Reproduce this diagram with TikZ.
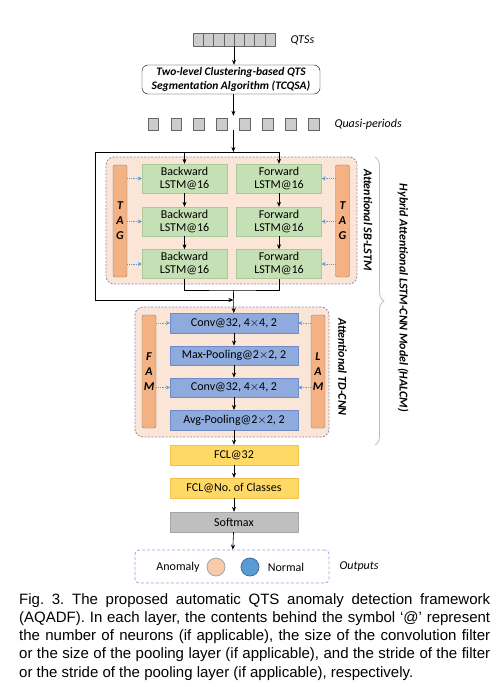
\documentclass[tikz,border=0pt]{standalone}
\usepackage{fontspec}
\setmainfont{Carlito}
\newfontfamily\capfont{Liberation Sans}
\usetikzlibrary{arrows.meta,shapes,positioning,calc}
\usetikzlibrary{decorations, decorations.pathreplacing}
\definecolor{fg}{rgb}{0,0,0}
\definecolor{peach}{HTML}{FBE5D6}
\definecolor{barorange}{HTML}{F4B183}
\definecolor{groupline}{HTML}{8E8CB8}
\definecolor{lstmgreen}{HTML}{C5E0B4}
\definecolor{lstmline}{HTML}{A9C99A}
\definecolor{cnnblue}{HTML}{8FAADC}
\definecolor{cnnline}{HTML}{6F8CC4}
\definecolor{fclgold}{HTML}{FFD966}
\definecolor{fclline}{HTML}{F2C04E}
\definecolor{softgray}{HTML}{BFBFBF}
\definecolor{attblue}{HTML}{5B9BD5}
\definecolor{bracecol}{HTML}{B4BFCC}
\definecolor{anomcol}{HTML}{F8CBAD}
\newcommand{\diagfont}{\fontsize{12}{13}\selectfont}
\tikzstyle{cell}=[draw=gray!80!black, fill=gray!40, minimum width=10.5pt,
minimum height=12pt, inner sep=0pt]
\tikzstyle{group}=[draw=groupline, fill=peach, dash pattern=on 2pt off 1.5pt,
rounded corners=8pt, thick]
\tikzstyle{bar}=[draw=gray, fill=barorange, rounded corners=2pt, minimum width=14pt,
inner sep=0pt, align=center, font=\bfseries\itshape\fontsize{12}{15}\selectfont]
\tikzstyle{lstm}=[draw=lstmline, fill=lstmgreen, minimum width=85pt, minimum height=29pt,
inner sep=0pt, align=center, font=\diagfont]
\tikzstyle{cnn}=[draw=cnnline, fill=cnnblue, minimum width=128pt, minimum height=19.5pt,
inner sep=0pt, font=\diagfont]
\tikzstyle{fcl}=[draw=fclline, fill=fclgold, minimum width=128pt, minimum height=20pt,
inner sep=0pt, font=\diagfont]
\tikzstyle{label}=[font=\itshape\diagfont]
\tikzstyle{sidelabel}=[rotate=-90, font=\bfseries\itshape\diagfont]
\tikzstyle{myarrow}=[-{Stealth[length=5pt,width=4pt]}, semithick]
\tikzstyle{attarrow}=[-{Stealth[length=4pt,width=4pt]}, attblue, densely dotted, thick]

\begin{document}
\frenchspacing
\begin{tikzpicture}[x=1pt, y=-1pt]
    \useasboundingbox (0,0) rectangle (500,687);

    % input series and segmentation
    \node[cell, minimum width=82pt, minimum height=12.5pt] (qts) at (234, 39.5) {};
    \foreach \i in {1,...,7} \draw[gray!80!black] (193+10.25*\i, 33.25) -- ++(0, 12.5);
    \node[label, anchor=west] (qtslab) at (287, 40) {QTSs};
    \node[draw, rounded corners=6pt, minimum width=178pt, minimum height=29pt, align=center,
        inner sep=0pt, font=\bfseries\itshape\fontsize{11.5}{13.5}\selectfont] (tcqsa)
        at (231, 79.5) {Two-level Clustering-based QTS\\Segmentation Algorithm (TCQSA)};
    \node[minimum width=172pt, minimum height=12pt, inner sep=0pt] (quasi) at (233.4, 124) {};
    \foreach \i in {0,...,7} \node[cell] (p\i) at (153+22.96*\i, 124) {};
    \node[label, anchor=west] (quasilab) at (331, 124) {Quasi-periods};

    \draw[myarrow] (qts.south) -- (qts.south |- tcqsa.north);
    \draw[myarrow] (tcqsa.south -| quasi) -- ($(quasi.north)+(0,-2)$);

    % attentional SB-LSTM
    \node[group, minimum width=251pt, minimum height=127pt] (lstmgroup) at (231.5, 220.5) {};
    \node[bar, minimum height=112pt] (tagL) at (120, 221) {T\\A\\G};
    \node[bar, minimum height=112pt] (tagR) at (342.5, 221) {T\\A\\G};
    \node[lstm] (bw1) at (184.5, 178.5) {Backward\\LSTM@16};
    \node[lstm] (fw1) at (279, 178.5) {Forward\\LSTM@16};
    \node[lstm] (bw2) at (184.5, 221.5) {Backward\\LSTM@16};
    \node[lstm] (fw2) at (279, 221.5) {Forward\\LSTM@16};
    \node[lstm] (bw3) at (184.5, 264) {Backward\\LSTM@16};
    \node[lstm] (fw3) at (279, 264) {Forward\\LSTM@16};
    \node[sidelabel] (lstmlab) at (368, 220) {Attentional SB-LSTM};

    \coordinate (split) at (233.4, 152);
    \coordinate (bypass) at (95, 152);
    \coordinate (merge) at (233.4, 290);
    \coordinate (join) at (233.4, 300);

    \draw[myarrow] (quasi.south) -- (split);
    \draw[semithick] (bypass) -- (fw1.north |- split);
    \draw[myarrow] (bw1.north |- split) -- (bw1);
    \draw[myarrow] (fw1.north |- split) -- (fw1);
    \draw[myarrow] (bw1) -- (bw2);
    \draw[myarrow] (bw2) -- (bw3);
    \draw[myarrow] (fw1) -- (fw2);
    \draw[myarrow] (fw2) -- (fw3);
    \draw[attarrow] (tagL.east |- bw1) -- (bw1.west);
    \draw[attarrow] (tagL.east |- bw2) -- (bw2.west);
    \draw[attarrow] (tagL.east |- bw3) -- (bw3.west);
    \draw[attarrow] (tagR.west |- fw1) -- (fw1.east);
    \draw[attarrow] (tagR.west |- fw2) -- (fw2.east);
    \draw[attarrow] (tagR.west |- fw3) -- (fw3.east);
    \draw[semithick] (bw3.south) |- (merge) -| (fw3.south);
    \draw[myarrow] (bypass) |- (join);

    % attentional TD-CNN
    \node[group, minimum width=194pt, minimum height=130pt] (cnngroup) at (232, 372) {};
    \node[bar, minimum height=113pt] (fam) at (149, 371.5) {F\\A\\M};
    \node[bar, minimum height=113pt] (lam) at (318, 371.5) {L\\A\\M};
    \node[cnn] (conv1) at (234, 323) {Conv@32, 4$\times$4, 2};
    \node[cnn] (maxpool) at (234, 355.5) {Max-Pooling@2$\times$2, 2};
    \node[cnn] (conv2) at (234, 387.5) {Conv@32, 4$\times$4, 2};
    \node[cnn] (avgpool) at (234, 420) {Avg-Pooling@2$\times$2, 2};
    \node[sidelabel] (cnnlab) at (342.5, 367) {Attentional TD-CNN};

    \draw[myarrow] (merge) -- (conv1);
    \draw[myarrow] (conv1) -- (maxpool);
    \draw[myarrow] (maxpool) -- (conv2);
    \draw[myarrow] (conv2) -- (avgpool);
    \draw[attarrow] (fam.east |- conv1) -- (conv1.west);
    \draw[attarrow] (fam.east |- conv2) -- (conv2.west);
    \draw[attarrow] (lam.west |- conv1) -- (conv1.east);
    \draw[attarrow] (lam.west |- conv2) -- (conv2.east);

    % HALCM brace
    \draw[bracecol, thick, decorate, decoration={brace, amplitude=9pt}]
        (375, 157) -- (375, 445);
    \node[sidelabel] (halcm) at (403, 298) {Hybrid Attentional LSTM-CNN Model (HALCM)};

    % classifier
    \node[fcl] (fcl1) at (234, 455) {FCL@32};
    \node[fcl] (fcl2) at (234, 488) {FCL@No. of Classes};
    \node[fcl, draw=gray!70, fill=softgray] (softmax) at (234, 522) {Softmax};
    \draw[myarrow] (avgpool) -- (fcl1);
    \draw[myarrow] (fcl1) -- (fcl2);
    \draw[myarrow] (fcl2) -- (softmax);

    % outputs
    \node[draw=cnnblue, thick, dash pattern=on 3pt off 2pt, rounded corners=4pt,
        minimum width=194pt, minimum height=33pt] (outputs) at (232, 566.5) {};
    \node[font=\diagfont] (anomlab) at (178, 567) {Anomaly};
    \node[circle, draw=gray!70, fill=anomcol, thick, minimum size=18pt, inner sep=0pt]
        (anomaly) at (216, 567) {};
    \node[circle, draw=attblue!70!black, fill=attblue, thick, minimum size=18pt, inner sep=0pt]
        (normal) at (250, 567) {};
    \node[font=\diagfont] (normlab) at (286, 567) {Normal};
    \node[label, anchor=west] (outlab) at (336, 567) {Outputs};
    \draw[myarrow] (softmax) -- (outputs);

    % caption
    \node[anchor=base west, inner sep=0pt, font=\capfont\fontsize{15}{18}\selectfont] (cap1)
        at (19, 604) {\makebox[471pt][s]{Fig. 3. The proposed automatic QTS anomaly detection framework}};
    \node[anchor=base west, inner sep=0pt, font=\capfont\fontsize{15}{18}\selectfont] (cap2)
        at (19, 622.25) {\makebox[471pt][s]{(AQADF). In each layer, the contents behind the symbol ‘@’ represent}};
    \node[anchor=base west, inner sep=0pt, font=\capfont\fontsize{15}{18}\selectfont] (cap3)
        at (19, 640.5) {\makebox[471pt][s]{the number of neurons (if applicable), the size of the convolution filter}};
    \node[anchor=base west, inner sep=0pt, font=\capfont\fontsize{15}{18}\selectfont] (cap4)
        at (19, 658.75) {\makebox[471pt][s]{or the size of the pooling layer (if applicable), and the stride of the filter}};
    \node[anchor=base west, inner sep=0pt, font=\capfont\fontsize{15}{18}\selectfont] (cap5)
        at (19, 677) {or the stride of the pooling layer (if applicable), respectively.};
\end{tikzpicture}
\end{document}
